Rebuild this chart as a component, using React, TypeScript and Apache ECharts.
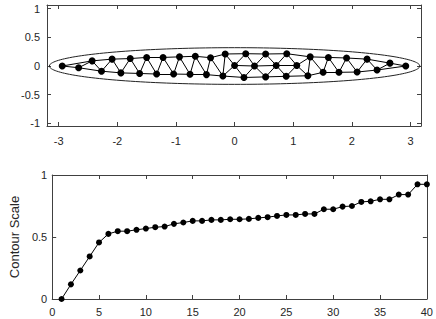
import React, { useEffect, useRef } from "react";
import * as echarts from "echarts";

// ---- Top panel: graph nodes (x, y) ----
const nodeX = [
  -2.94, -2.66, -2.43, -2.27, -2.09, -1.94, -1.78, -1.62, -1.5, -1.33,
  -1.22, -1.04, -0.94, -0.76, -0.67, -0.48, -0.41, -0.2, -0.16, 0.0,
  0.16, 0.19, 0.34, 0.53, 0.53, 0.71, 0.89, 0.88, 1.06, 1.25,
  1.29, 1.51, 1.6, 1.78, 1.91, 2.09, 2.26, 2.43, 2.65, 2.92,
];
const nodeY = [
  0.0, -0.03, 0.09, -0.09, 0.12, -0.12, 0.13, -0.13, 0.15, -0.14,
  0.15, -0.14, 0.16, -0.145, 0.17, -0.15, 0.145, -0.175, 0.21, 0.01,
  -0.2, 0.215, 0.0, 0.21, -0.19, 0.01, 0.215, -0.18, 0.01, -0.17,
  0.16, -0.11, 0.15, -0.11, 0.14, -0.105, 0.12, -0.07, 0.05, 0.0,
];
// edges, 1-based node numbers
const edges: [number, number][] = [
  [1, 2], [2, 3], [3, 4], [4, 5], [5, 6], [6, 7], [7, 8], [8, 9], [9, 10], [10, 11],
  [11, 12], [12, 13], [13, 14], [14, 15], [15, 16], [16, 17], [17, 18], [18, 19], [19, 20], [20, 21],
  [22, 23], [23, 24], [25, 26], [26, 27], [28, 29], [29, 30], [30, 31], [31, 32], [32, 33], [33, 34],
  [34, 35], [35, 36], [36, 37], [37, 38], [38, 39], [39, 40],
  [1, 3], [2, 4], [3, 5], [4, 6], [5, 7], [6, 8], [7, 9], [8, 10], [9, 11], [10, 12],
  [11, 13], [12, 14], [13, 15], [14, 16], [15, 17], [16, 18], [17, 19],
  [18, 20], [18, 21], [19, 22], [20, 22], [20, 23], [21, 23], [21, 25], [22, 24], [23, 25], [23, 26],
  [24, 26], [24, 27], [25, 28], [26, 28], [26, 29], [27, 29], [27, 31], [28, 30], [29, 31], [30, 32],
  [31, 33], [32, 34], [33, 35], [34, 36], [35, 37], [36, 38], [37, 39], [38, 40],
];
// bounding ellipse semi-axes
const ellipseA = 3.16;
const ellipseB = 0.32;
const topXTicks = [-3, -2, -1, 0, 1, 2, 3];
const topYTicks = [-1, -0.5, 0, 0.5, 1];

// ---- Bottom panel: contour scale ----
const scaleIdx = Array.from({ length: 40 }, (_, i) => i + 1);
const scaleVals = [
  0.0, 0.118, 0.23, 0.343, 0.456, 0.525, 0.547, 0.547, 0.558, 0.568,
  0.579, 0.584, 0.606, 0.617, 0.63, 0.63, 0.638, 0.638, 0.643, 0.643,
  0.646, 0.654, 0.66, 0.67, 0.678, 0.678, 0.686, 0.686, 0.724, 0.724,
  0.745, 0.75, 0.783, 0.788, 0.804, 0.804, 0.842, 0.842, 0.925, 0.925,
];
const bottomXTicks = [0, 5, 10, 15, 20, 25, 30, 35, 40];
const bottomYTicks = [0, 0.5, 1];

const AX = "#404040";
const FONT = "Liberation Sans";

export default function App() {
  const ref = useRef<HTMLDivElement>(null);
  useEffect(() => {
    if (!ref.current) return;
    const chart = echarts.init(ref.current, null, { renderer: "svg" });

    const ellipsePts: number[][] = [];
    for (let k = 0; k <= 200; k++) {
      const t = (k / 200) * Math.PI * 2;
      ellipsePts.push([ellipseA * Math.cos(t), ellipseB * Math.sin(t)]);
    }

    const mkAxis = (
      gridIndex: number,
      position: string,
      min: number,
      max: number,
      ticks: number[],
      showLabels: boolean,
      margin: number
    ) => ({
      type: "value",
      gridIndex,
      position,
      min,
      max,
      axisLine: { show: true, onZero: false, lineStyle: { color: AX, width: 1 } },
      axisTick: { show: true, inside: true, length: 4, customValues: ticks, lineStyle: { color: AX } },
      axisLabel: {
        show: showLabels,
        customValues: ticks,
        margin,
        color: "#262626",
        fontSize: 11,
        fontFamily: FONT,
      },
      splitLine: { show: false },
    });

    chart.setOption({
      animation: false,
      grid: [
        { left: 47, right: 15, top: 5, height: 121 },
        { left: 41, right: 9, top: 175, height: 124 },
      ],
      xAxis: [
        mkAxis(0, "bottom", -3.2, 3.18, topXTicks, true, 9),
        mkAxis(0, "top", -3.2, 3.18, topXTicks, false, 0),
        mkAxis(1, "bottom", 0, 40, bottomXTicks, true, 7),
        mkAxis(1, "top", 0, 40, bottomXTicks, false, 0),
      ],
      yAxis: [
        mkAxis(0, "left", -1.047, 1.065, topYTicks, true, 7),
        mkAxis(0, "right", -1.047, 1.065, topYTicks, false, 0),
        {
          ...mkAxis(1, "left", 0, 1, bottomYTicks, true, 5),
          name: "Contour Scale",
          nameLocation: "middle",
          nameGap: 25,
          nameRotate: 90,
          nameTextStyle: { color: "#262626", fontSize: 13, fontFamily: FONT },
        },
        mkAxis(1, "right", 0, 1, bottomYTicks, false, 0),
      ],
      series: [
        {
          type: "line",
          xAxisIndex: 0,
          yAxisIndex: 0,
          data: ellipsePts,
          showSymbol: false,
          symbol: "none",
          lineStyle: { color: "#222", width: 1 },
          silent: true,
          z: 1,
        },
        {
          type: "graph",
          coordinateSystem: "cartesian2d",
          xAxisIndex: 0,
          yAxisIndex: 0,
          layout: "none",
          symbol: "circle",
          symbolSize: 7,
          itemStyle: { color: "#000" },
          label: { show: false },
          emphasis: { disabled: true },
          data: nodeX.map((x, i) => ({ name: "n" + i, value: [x, nodeY[i]] })),
          links: edges.map(([a, b]) => ({ source: a - 1, target: b - 1 })),
          lineStyle: { color: "#000", width: 1, opacity: 1, curveness: 0 },
          z: 2,
        },
        {
          type: "line",
          xAxisIndex: 2,
          yAxisIndex: 2,
          data: scaleIdx.map((x, i) => [x, scaleVals[i]]),
          symbol: "circle",
          symbolSize: 6,
          showSymbol: true,
          itemStyle: { color: "#000" },
          lineStyle: { color: "#000", width: 1 },
          emphasis: { disabled: true },
        },
      ],
    });
    return () => chart.dispose();
  }, []);
  return <div ref={ref} style={{ width: 436, height: 319, position: "absolute", left: 0, top: 0, background: "#fff" }} />;
}
